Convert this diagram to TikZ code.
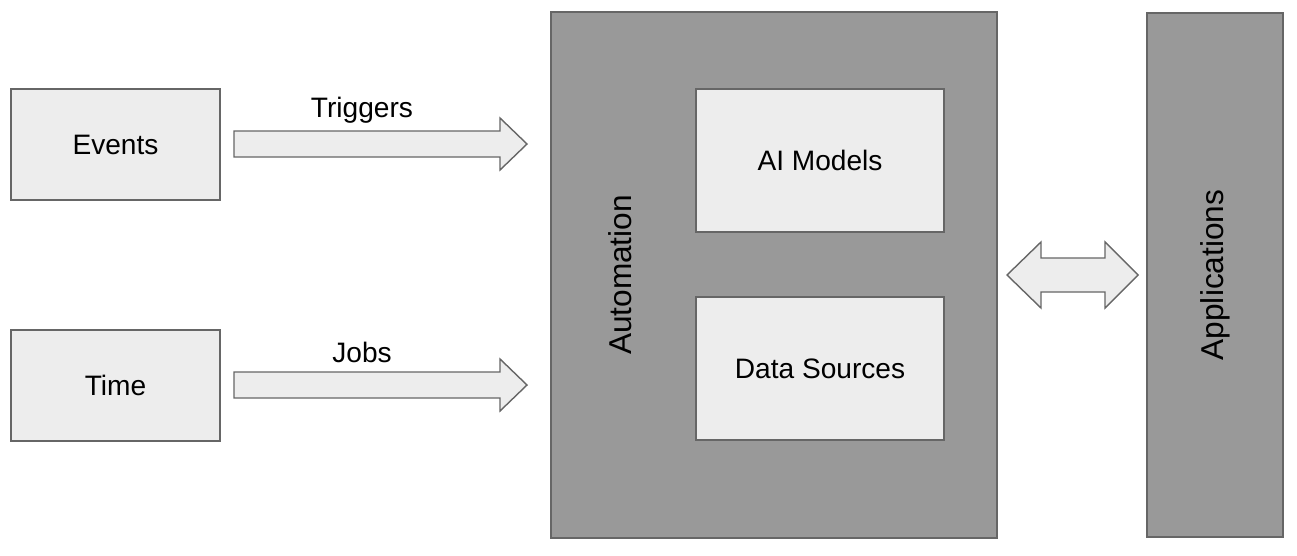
\documentclass[tikz,border=0pt]{standalone}
\usepackage{fontspec}
\setmainfont{Liberation Sans}
\tikzset{
  lightbox/.style={draw=black!60, fill=black!7, line width=0.8pt, font=\fontsize{16}{19}\selectfont},
  darkbox/.style={draw=black!60, fill=black!40, line width=0.8pt},
  blockarrow/.style={draw=black!60, fill=black!7, line width=0.8pt, line join=miter},
  arrowlabel/.style={font=\fontsize{16}{19}\selectfont}
}
\begin{document}
\begin{tikzpicture}[x=0.02cm, y=-0.02cm]
    \useasboundingbox (0,0) rectangle (1297,555);

    \node (events) at (115.5,144.5) [lightbox, minimum width=4.18cm, minimum height=2.22cm]{Events};
    \node (time) at (115.5,385.5) [lightbox, minimum width=4.18cm, minimum height=2.22cm]{Time};

    \node (auto) at (774,275) [darkbox, minimum width=8.92cm, minimum height=10.52cm]{};
    \node (autolabel) at (620,275) [rotate=90, font=\fontsize{18}{21}\selectfont]{Automation};
    \node (models) at (820,160.5) [lightbox, minimum width=4.96cm, minimum height=2.86cm]{AI Models};
    \node (sources) at (820,368.5) [lightbox, minimum width=4.96cm, minimum height=2.86cm]{Data Sources};

    \node (apps) at (1215,275) [darkbox, minimum width=2.72cm, minimum height=10.48cm]{};
    \node (appslabel) at (1215,275) [rotate=90, font=\fontsize{18}{21}\selectfont]{Applications};

    % block arrows
    \draw[blockarrow] (234,131) -- (500,131) -- (500,118) -- (527,144) -- (500,170) -- (500,157) -- (234,157) -- cycle;
    \draw[blockarrow] (234,372) -- (500,372) -- (500,359) -- (527,385) -- (500,411) -- (500,398) -- (234,398) -- cycle;
    \draw[blockarrow] (1007,275) -- (1041,242) -- (1041,258) -- (1105,258) -- (1105,242) -- (1138,275)
        -- (1105,308) -- (1105,292) -- (1041,292) -- (1041,308) -- cycle;

    \node (trig) at (362,110) [arrowlabel]{Triggers};
    \node (jobs) at (362,352) [arrowlabel]{Jobs};
\end{tikzpicture}
\end{document}
